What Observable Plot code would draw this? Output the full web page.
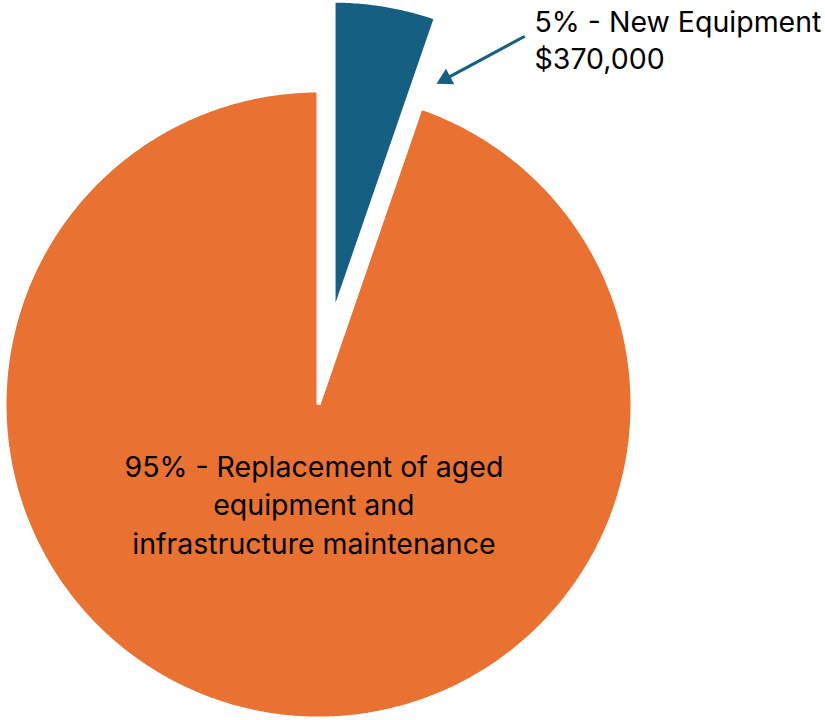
<!DOCTYPE html>
<html><head><meta charset="utf-8">
<script src="https://cdn.jsdelivr.net/npm/d3@7"></script>
<script src="https://cdn.jsdelivr.net/npm/@observablehq/plot@0.6"></script>
<style>body{margin:0;background:#fff}</style>
</head><body><div id="chart"></div>
<script>
const categories = ["New Equipment", "Replacement of aged equipment and infrastructure maintenance"];
const amounts = [370000, 6630000];
const percentLabels = ["5%", "95%"];
const amountLabels = ["$370,000", ""];
const colors = ["#156082", "#E97132"];

const W = 825, H = 720, cx = 318, cy = 404, R = 314;
const explode = [0.29, 0];
const font = "Inter";
const fontSize = 28.5;

const slices = d3.pie().sort(null).value(d => d)(amounts);
const pts = [];
slices.forEach((s, i) => {
  const mid = (s.startAngle + s.endAngle) / 2;
  const ox = explode[i] * R * Math.sin(mid), oy = explode[i] * R * Math.cos(mid);
  pts.push({k: i, x: ox, y: oy});
  const n = Math.max(2, Math.ceil((s.endAngle - s.startAngle) / (Math.PI / 360)));
  for (let j = 0; j <= n; j++) {
    const a = s.startAngle + (s.endAngle - s.startAngle) * j / n;
    pts.push({k: i, x: ox + R * Math.sin(a), y: oy + R * Math.cos(a)});
  }
});

// annotation layout (screen px -> plot units)
const toX = px => px - cx, toY = py => cy - py;
const arrowStart = [toX(524.3), toY(35.7)], arrowTip = [toX(436), toY(83.3)];
const adx = arrowTip[0] - arrowStart[0], ady = arrowTip[1] - arrowStart[1];
const alen = Math.hypot(adx, ady);
const headLen = 15.5, headW = 17.5;
const shaftEnd = [arrowTip[0] - adx / alen * (headLen - 3), arrowTip[1] - ady / alen * (headLen - 3)];
const rot = Math.atan2(adx, ady) * 180 / Math.PI; // clockwise from up (y up in data)
const headSymbol = {draw(ctx) { ctx.moveTo(0, 0); ctx.lineTo(-headW / 2, headLen); ctx.lineTo(headW / 2, headLen); ctx.closePath(); }};

const bigLabel = `${percentLabels[1]} - Replacement of aged\nequipment and\ninfrastructure maintenance`;
const smallLabel = `${percentLabels[0]} - ${categories[0]}\n${amountLabels[0]}`;

const chart = Plot.plot({
  width: W, height: H, margin: 0,
  x: {domain: [-cx, W - cx], axis: null},
  y: {domain: [cy - H, cy], axis: null},
  color: {type: "ordinal", domain: [0, 1], range: colors},
  style: {fontFamily: font, background: "#fff"},
  marks: [
    Plot.line(pts, {x: "x", y: "y", z: "k", fill: "k", stroke: "white", strokeWidth: 4, curve: "linear-closed", strokeLinejoin: "miter"}),
    Plot.link([0], {x1: () => arrowStart[0], y1: () => arrowStart[1], x2: () => shaftEnd[0], y2: () => shaftEnd[1], stroke: colors[0], strokeWidth: 3}),
    Plot.dot([0], {x: () => arrowTip[0], y: () => arrowTip[1], symbol: headSymbol, fill: colors[0], stroke: "none", rotate: rot}),
    Plot.text([bigLabel], {x: () => toX(313.4), y: () => toY(502.2), text: d => d, fontSize, lineHeight: 38.5 / fontSize, textAnchor: "middle", fill: "black"}),
    Plot.text([smallLabel], {x: () => toX(534), y: () => toY(38.2), text: d => d, fontSize, lineHeight: 37.4 / fontSize, textAnchor: "start", fill: "black"})
  ]
});
document.getElementById("chart").append(chart);
</script></body></html>
